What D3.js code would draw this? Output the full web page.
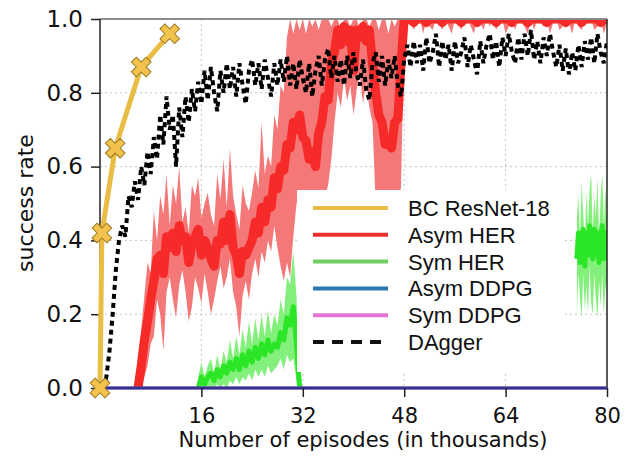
<!DOCTYPE html>
<html>
<head>
<meta charset="utf-8">
<script src="https://cdn.jsdelivr.net/npm/d3@7"></script>
<style>
  html, body { margin: 0; padding: 0; background: #fff; }
  svg { display: block; }
  .tick text { font-family: "DejaVu Sans", sans-serif; fill: #111; }
  .lg text { font-family: "Liberation Sans", Arial, sans-serif; font-size: 22px; fill: #111; }
</style>
</head>
<body>
<div id="chart"></div>
<script>
// success rate vs episodes (thousands)

const xTicks = [16, 32, 48, 64, 80];
const yTicks = [0, 0.2, 0.4, 0.6, 0.8, 1.0];

// BC ResNet-18: a handful of evaluation points
const bcX = [0, 0.3, 2.4, 6.5, 11];
const bcY = [0, 0.42, 0.65, 0.87, 0.96];

// DAgger, sampled every 0.5k episodes from 0.5k
const daggerStart = 0.5, daggerStep = 0.5;
const daggerY = [
  0.00,0.03,0.10,0.20,0.32,0.40,0.44,0.41,0.52,0.49,
  0.56,0.51,0.60,0.55,0.64,0.58,0.68,0.62,0.74,0.66,
  0.79,0.70,0.74,0.60,0.76,0.68,0.79,0.72,0.81,0.75,
  0.83,0.77,0.86,0.78,0.87,0.80,0.75,0.86,0.80,0.88,
  0.81,0.87,0.79,0.88,0.82,0.77,0.86,0.89,0.82,0.88,
  0.81,0.89,0.84,0.79,0.88,0.82,0.89,0.83,0.90,0.82,
  0.88,0.81,0.89,0.84,0.80,0.88,0.79,0.86,0.90,0.82,
  0.89,0.92,0.84,0.90,0.83,0.89,0.82,0.90,0.84,0.91,
  0.85,0.82,0.89,0.81,0.78,0.88,0.91,0.83,0.90,0.82,
  0.89,0.84,0.90,0.82,0.79,0.89,0.93,0.87,0.94,0.88,
  0.93,0.86,0.95,0.88,0.91,0.96,0.87,0.94,0.89,0.93,
  0.86,0.94,0.88,0.91,0.95,0.87,0.93,0.89,0.85,0.94,
  0.88,0.93,0.96,0.89,0.94,0.87,0.95,0.90,0.96,0.91,
  0.88,0.95,0.89,0.96,0.90,0.97,0.89,0.94,0.88,0.95,
  0.90,0.96,0.91,0.87,0.93,0.86,0.92,0.85,0.91,0.86,
  0.93,0.87,0.94,0.89,0.95,0.88,0.96,0.91,0.88,0.94
];

// Asym HER: mean and min/max band, every 0.5k episodes from 6k
const asymStart = 6, asymStep = 0.5;
const asymMean = [
  0.00,0.06,0.13,0.18,0.24,0.29,0.35,0.36,0.31,0.41,
  0.38,0.42,0.37,0.44,0.40,0.41,0.34,0.39,0.41,0.43,
  0.36,0.40,0.38,0.35,0.33,0.40,0.39,0.45,0.40,0.47,
  0.38,0.36,0.31,0.37,0.36,0.38,0.40,0.45,0.42,0.49,
  0.45,0.51,0.49,0.57,0.54,0.60,0.59,0.66,0.65,0.72,
  0.70,0.74,0.68,0.67,0.62,0.64,0.60,0.69,0.72,0.79,
  0.78,0.88,0.91,0.97,0.93,0.98,0.94,0.97,0.86,0.97,
  0.95,0.98,0.94,0.97,0.88,0.80,0.74,0.72,0.66,0.67,
  0.65,0.72,0.73,0.88,1.00,
  1,1,0.99,1,1,1,0.99,1,1,1,
  1,0.99,1,1,1,1,1,0.99,1,1,
  1,1,0.99,1,1,1,1,1,0.99,1,
  1,1,1,0.99,1,1,1,1,0.99,1,
  1,1,1,1,0.99,1,1,1,1,1,
  0.99,1,1,1,1,0.99,1,1,1,1,
  1,0.99,1,1
];
const asymLo = [
  0.00,0.00,0.03,0.06,0.12,0.14,0.24,0.20,0.10,0.26,
  0.30,0.24,0.19,0.28,0.32,0.26,0.18,0.22,0.30,0.27,
  0.23,0.31,0.26,0.20,0.24,0.29,0.33,0.27,0.30,0.35,
  0.26,0.22,0.14,0.25,0.29,0.24,0.31,0.35,0.30,0.37,
  0.34,0.40,0.37,0.44,0.38,0.33,0.29,0.34,0.30,0.41,
  0.50,0.52,0.50,0.48,0.46,0.45,0.44,0.47,0.50,0.52,
  0.55,0.62,0.72,0.80,0.76,0.84,0.78,0.82,0.74,0.81,
  0.85,0.77,0.83,0.76,0.72,0.50,0.42,0.40,0.38,0.36,
  0.38,0.40,0.42,0.55,0.96,
  0.98,1,0.97,0.99,1,0.96,1,0.98,0.97,1,
  0.99,0.97,1,0.98,0.96,1,0.99,0.97,1,1,
  0.98,0.96,1,0.99,0.97,1,0.98,1,0.97,0.99,
  1,0.96,0.98,1,0.97,1,0.99,0.98,0.96,1,
  0.97,1,0.99,0.98,1,0.96,0.99,1,0.97,0.98,
  1,0.99,0.96,1,0.98,0.97,1,0.99,1,0.97,
  0.98,1,0.96,0.99
];
const asymHi = [
  0.02,0.16,0.25,0.34,0.31,0.48,0.40,0.52,0.47,0.58,
  0.44,0.55,0.50,0.60,0.45,0.49,0.42,0.55,0.52,0.57,
  0.46,0.50,0.53,0.47,0.44,0.58,0.51,0.62,0.49,0.65,
  0.52,0.47,0.43,0.55,0.50,0.48,0.53,0.59,0.54,0.72,
  0.58,0.63,0.60,0.74,0.70,0.82,0.80,0.95,1.00,0.96,
  1.00,0.97,1.00,0.96,1.00,0.98,1.00,0.97,1.00,1.00,
  1.00,0.98,1.00,1.00,0.97,1.00,1.00,0.98,1.00,1.00,
  0.97,1.00,1.00,0.98,1.00,1.00,0.97,1.00,1.00,0.96,
  1.00,0.98,1.00,1.00,1.00,
  1,1,1,1,1,1,1,1,1,1,
  1,1,1,1,1,1,1,1,1,1,
  1,1,1,1,1,1,1,1,1,1,
  1,1,1,1,1,1,1,1,1,1,
  1,1,1,1,1,1,1,1,1,1,
  1,1,1,1,1,1,1,1,1,1,
  1,1,1,1
];

// Sym HER: two visible stretches (it sits at 0 in between)
const symStartA = 15.5, symStepA = 0.5;
const symMeanA = [
  0.00,0.03,0.01,0.03,0.04,0.02,0.05,0.03,0.06,0.04,
  0.07,0.05,0.08,0.05,0.09,0.06,0.10,0.07,0.11,0.08,
  0.12,0.09,0.13,0.10,0.12,0.11,0.15,0.13,0.19,0.17,
  0.22,0.12,0.00
];
const symLoA = [
  0.00,0.00,0.00,0.00,0.00,0.00,0.01,0.00,0.01,0.00,
  0.02,0.01,0.03,0.01,0.03,0.02,0.04,0.02,0.05,0.03,
  0.05,0.03,0.06,0.04,0.05,0.06,0.08,0.05,0.09,0.07,
  0.08,0.02,0.00
];
const symHiA = [
  0.03,0.07,0.03,0.06,0.08,0.04,0.09,0.05,0.10,0.07,
  0.13,0.08,0.14,0.09,0.16,0.11,0.18,0.12,0.19,0.13,
  0.20,0.14,0.21,0.15,0.20,0.17,0.24,0.20,0.30,0.28,
  0.37,0.25,0.00
];
const symStartB = 75.25, symStepB = 0.25;
const symMeanB = [0.35,0.42,0.34,0.41,0.43,0.33,0.42,0.36,0.44,0.37,0.35,0.43,0.36,0.42,0.34,0.41,0.44,0.35,0.42,0.37];
const symLoB   = [0.20,0.31,0.24,0.19,0.31,0.21,0.28,0.20,0.33,0.23,0.20,0.31,0.24,0.19,0.29,0.22,0.31,0.20,0.27,0.29];
const symHiB   = [0.46,0.52,0.40,0.56,0.47,0.39,0.53,0.44,0.54,0.58,0.42,0.52,0.46,0.57,0.40,0.52,0.58,0.44,0.54,0.45];

// DDPG runs never succeed
const ddpgX = [0, 80];
const asymDdpgY = [0, 0];
const symDdpgY = [0, 0];

const legendNames = ["BC ResNet-18", "Asym HER", "Sym HER", "Asym DDPG", "Sym DDPG", "DAgger"];
const legendColors = ["#e9bd45", "#e8302e", "#6fd060", "#2a78ad", "#e274d6", "#111"];

// ---------------------------------------------------------------
const W = 628, H = 462;
const m = { l: 100, r: 21, t: 19, b: 74 };

const svg = d3.select("#chart").append("svg").attr("width", W).attr("height", H);
const x = d3.scaleLinear().domain([0, 80]).range([m.l, W - m.r]);
const y = d3.scaleLinear().domain([0, 1]).range([H - m.b, m.t]);

svg.append("defs").append("clipPath").attr("id", "plot")
  .append("rect").attr("x", m.l).attr("y", m.t).attr("width", W - m.l - m.r).attr("height", H - m.t - m.b);

// grid
const grid = svg.append("g").attr("stroke", "#c4c4c4").attr("stroke-dasharray", "2,3");
grid.selectAll("line.gy").data(yTicks.filter(v => v > 0 && v < 1)).join("line")
  .attr("x1", m.l).attr("x2", W - m.r).attr("y1", d => y(d)).attr("y2", d => y(d));
grid.selectAll("line.gx").data(xTicks.filter(v => v < 80)).join("line")
  .attr("y1", m.t).attr("y2", H - m.b).attr("x1", d => x(d)).attr("x2", d => x(d));

const pts = (start, step, mean, lo, hi) =>
  mean.map((v, i) => ({ x: start + i * step, m: v, lo: lo[i], hi: hi[i] }));

const area = d3.area().x(d => x(d.x)).y0(d => y(d.lo)).y1(d => y(d.hi));
const mline = d3.line().x(d => x(d.x)).y(d => y(d.m));

const plot = svg.append("g").attr("clip-path", "url(#plot)");

// Asym HER: light min/max band, saturated thick mean ribbon
const asym = pts(asymStart, asymStep, asymMean, asymLo, asymHi);
plot.append("path").datum(asym).attr("d", area).attr("fill", "#f47878");
plot.append("path").datum(asym).attr("d", mline).attr("fill", "none")
  .attr("stroke", "#f72a2a").attr("stroke-width", 9).attr("stroke-linejoin", "round");

// Sym HER
[pts(symStartA, symStepA, symMeanA, symLoA, symHiA), pts(symStartB, symStepB, symMeanB, symLoB, symHiB)]
  .forEach(seg => {
    plot.append("path").datum(seg).attr("d", area).attr("fill", "#84f07c");
    plot.append("path").datum(seg).attr("d", mline).attr("fill", "none")
      .attr("stroke", "#2ae626").attr("stroke-width", 5).attr("stroke-linejoin", "round");
  });

// DAgger
const dag = daggerY.map((v, i) => ({ x: daggerStart + i * daggerStep, m: v }));
plot.append("path").datum(dag).attr("d", mline).attr("fill", "none")
  .attr("stroke", "#000").attr("stroke-width", 4).attr("stroke-dasharray", "5,4");

// spines
const sp = svg.append("g");
sp.append("line").attr("x1", m.l).attr("x2", W - m.r).attr("y1", m.t).attr("y2", m.t)
  .attr("stroke", "#8c8c8c").attr("stroke-width", 2);
sp.append("line").attr("x1", m.l).attr("x2", m.l).attr("y1", m.t).attr("y2", H - m.b)
  .attr("stroke", "#222").attr("stroke-width", 1.5);
sp.append("line").attr("x1", W - m.r).attr("x2", W - m.r).attr("y1", m.t).attr("y2", H - m.b)
  .attr("stroke", "#222").attr("stroke-width", 1.5);

// DDPG at zero
const zl = d3.line().x((d, i) => x(ddpgX[i])).y(d => y(d));
svg.append("path").datum(symDdpgY).attr("d", zl).attr("stroke", legendColors[4]).attr("stroke-width", 3).attr("fill", "none");
svg.append("path").datum(asymDdpgY).attr("d", zl).attr("stroke", "#2e3490").attr("stroke-width", 3).attr("fill", "none");

// axes
const ax = svg.append("g").attr("transform", `translate(0,${H - m.b})`)
  .call(d3.axisBottom(x).tickValues(xTicks).tickSize(9).tickPadding(11).tickFormat(d3.format("d")));
ax.select(".domain").remove();
ax.selectAll(".tick line").attr("stroke", "#222").attr("stroke-width", 1.5);
ax.selectAll(".tick text").attr("font-size", 21);

const ay = svg.append("g").attr("transform", `translate(${m.l},0)`)
  .call(d3.axisLeft(y).tickValues(yTicks).tickSize(9).tickPadding(8).tickFormat(d3.format(".1f")));
ay.select(".domain").remove();
ay.selectAll(".tick line").attr("stroke", "#222").attr("stroke-width", 1.5);
ay.selectAll(".tick text").attr("font-size", 23);

svg.append("text").attr("x", 363).attr("y", 447).attr("text-anchor", "middle")
  .attr("font-family", "DejaVu Sans, sans-serif").attr("font-size", 21).attr("fill", "#111")
  .text("Number of episodes (in thousands)");
svg.append("text").attr("transform", "translate(33,203) rotate(-90)").attr("text-anchor", "middle")
  .attr("font-family", "DejaVu Sans, sans-serif").attr("font-size", 22).attr("fill", "#111")
  .text("success rate");

// BC ResNet-18
const bc = bcX.map((v, i) => ({ x: v, m: bcY[i] }));
svg.append("path").datum(bc).attr("d", mline).attr("fill", "none")
  .attr("stroke", legendColors[0]).attr("stroke-width", 5).attr("stroke-linejoin", "round");
svg.selectAll("path.bcm").data(bc).join("path").attr("class", "bcm")
  .attr("d", d3.symbol(d3.symbolCross, 240))
  .attr("transform", d => `translate(${x(d.x)},${y(d.m)}) rotate(45)`)
  .attr("fill", "#f2c24c").attr("stroke", "#9a7a22").attr("stroke-width", 1);

// legend
const lg = svg.append("g").attr("class", "lg");
lg.append("rect").attr("x", 297).attr("y", 190).attr("width", 268).attr("height", 182).attr("fill", "#fff");
const row = lg.selectAll("g").data(legendNames).join("g")
  .attr("transform", (d, i) => `translate(313,${208 + i * 26.8})`);
row.append("line").attr("x1", 0).attr("x2", 75)
  .attr("stroke", (d, i) => legendColors[i]).attr("stroke-width", 4)
  .attr("stroke-dasharray", (d, i) => i === 5 ? "11,8" : null);
row.append("text").attr("x", 95).attr("dy", "0.36em").text(d => d);
</script>
</body>
</html>
